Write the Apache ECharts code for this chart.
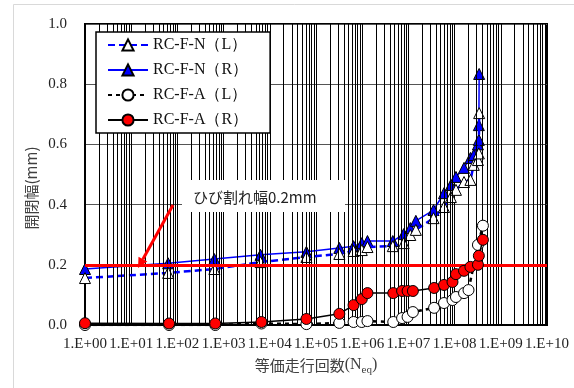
<!DOCTYPE html>
<html><head><meta charset="utf-8">
<script src="https://cdn.jsdelivr.net/npm/echarts@6/dist/echarts.min.js"></script>
<style>html,body{margin:0;padding:0;background:#fff}#c{width:574px;height:388px}</style>
</head><body><div id="c"></div>
<script>
// ---- data ----
const seriesNames = ['RC-F-N（L）', 'RC-F-N（R）', 'RC-F-A（L）', 'RC-F-A（R）'];
const yTicks = [0, 0.2, 0.4, 0.6, 0.8, 1.0];
const xTickExponents = [0,1,2,3,4,5,6,7,8,9,10];
const crackLimit = 0.2;
const crackLabel = 'ひび割れ幅0.2mm';

const nL_x = [1, 63, 630, 6300, 6.2e4, 3.2e5, 6.5e5, 9.8e5, 1.3e6, 4.6e6, 7.9e6, 1.1e7, 1.45e7, 3.5e7, 5.9e7, 8.3e7, 1.07e8, 1.6e8, 2.2e8, 2.6e8, 3.2e8, 3.35e8, 3.4e8];
const nL_y = [0.156, 0.173, 0.186, 0.209, 0.226, 0.236, 0.246, 0.249, 0.259, 0.262, 0.272, 0.299, 0.316, 0.355, 0.392, 0.425, 0.449, 0.475, 0.482, 0.532, 0.548, 0.570, 0.704];

const nR_x = [1, 63, 630, 6300, 6.2e4, 3.2e5, 6.5e5, 9.8e5, 1.3e6, 4.6e6, 7.9e6, 1.1e7, 1.45e7, 3.5e7, 5.9e7, 8.3e7, 1.07e8, 1.6e8, 2.2e8, 2.6e8, 3.2e8, 3.35e8, 3.35e8, 3.4e8];
const nR_y = [0.186, 0.205, 0.219, 0.233, 0.243, 0.256, 0.262, 0.272, 0.279, 0.279, 0.302, 0.322, 0.346, 0.382, 0.438, 0.465, 0.492, 0.522, 0.555, 0.565, 0.600, 0.615, 0.664, 0.834];

const aL_x = [1, 66, 660, 6600, 6.2e4, 3.2e5, 6.5e5, 9.8e5, 1.3e6, 4.7e6, 7.3e6, 9.6e6, 1.25e7, 3.6e7, 5.9e7, 9.0e7, 1.07e8, 1.6e8, 2.0e8, 3.2e8, 4.1e8];
const aL_y = [0.000, 0.000, 0.000, 0.005, 0.003, 0.007, 0.010, 0.010, 0.013, 0.010, 0.023, 0.027, 0.043, 0.057, 0.073, 0.083, 0.093, 0.106, 0.116, 0.266, 0.330];

const aR_x = [1, 66, 660, 6600, 6.2e4, 3.2e5, 6.5e5, 9.8e5, 1.3e6, 4.7e6, 7.3e6, 9.6e6, 1.25e7, 3.6e7, 5.9e7, 9.0e7, 1.07e8, 1.6e8, 2.2e8, 3.2e8, 3.35e8, 4.1e8];
const aR_y = [0.006, 0.005, 0.005, 0.010, 0.020, 0.037, 0.066, 0.086, 0.106, 0.106, 0.113, 0.113, 0.113, 0.123, 0.133, 0.143, 0.169, 0.180, 0.193, 0.200, 0.230, 0.283];

// ---- build ----
const pairs = (xs, ys) => xs.map((x, i) => [x, ys[i]]);
const minorLines = [];
for (let k = xTickExponents[0]; k < xTickExponents[xTickExponents.length - 1]; k++) {
  for (let m = 2; m <= 9; m++) minorLines.push({ xAxis: m * Math.pow(10, k) });
}
const serif = '"Liberation Serif","Times New Roman",serif';
const cjk = '"Noto Sans CJK JP",sans-serif';

const chart = echarts.init(document.getElementById('c'), null, { renderer: 'canvas' });
const option = {
  animation: false,
  backgroundColor: '#fff',
  grid: { left: 85, right: 27, top: 24, bottom: 63, show: true, borderColor: '#000', borderWidth: 2, backgroundColor: 'transparent' },
  legend: {
    orient: 'vertical', left: 96, top: 32,
    data: seriesNames,
    backgroundColor: '#fff', borderColor: '#000', borderWidth: 1.5,
    padding: [5, 22, 5, 11], itemGap: 9, itemWidth: 40, itemHeight: 14,
    textStyle: { fontFamily: serif, fontSize: 16, color: '#111' },
    z: 20
  },
  xAxis: {
    type: 'log', logBase: 10, min: Math.pow(10, xTickExponents[0]), max: Math.pow(10, xTickExponents[xTickExponents.length - 1]),
    interval: 1, splitNumber: 10,
    axisLine: { show: true, onZero: false, lineStyle: { color: '#000', width: 2 } },
    axisTick: { show: false },
    splitLine: { show: true, lineStyle: { color: '#000', width: 1 } },
    axisLabel: {
      margin: 12, fontFamily: serif, fontSize: 15, color: '#222',
      showMinLabel: true, showMaxLabel: true, hideOverlap: false,
      formatter: v => { const e = Math.round(Math.log10(v)); return '1.E+' + String(e).padStart(2, '0'); }
    },
    name: '{a|等価走行回数}{b|(N}{c|eq}{b|)}', nameLocation: 'middle', nameGap: 28,
    nameTextStyle: { rich: {
      a: { fontFamily: cjk, fontSize: 15, color: '#404040' },
      b: { fontFamily: serif, fontSize: 16, color: '#404040' },
      c: { fontFamily: serif, fontSize: 11, color: '#404040', padding: [10, 0, 0, 0] }
    } }
  },
  yAxis: {
    type: 'value', min: yTicks[0], max: yTicks[yTicks.length - 1], interval: 0.2,
    axisLine: { show: true, lineStyle: { color: '#000', width: 2 } },
    axisTick: { show: false },
    splitLine: { show: true, lineStyle: { color: '#555', width: 1 } },
    axisLabel: { margin: 18, fontFamily: serif, fontSize: 15, color: '#222', formatter: v => v.toFixed(1) }
  },
  series: [
    { name: '__grid', type: 'line', data: [], silent: true, z: 1,
      markLine: { silent: true, symbol: ['none', 'none'], label: { show: false }, animation: false,
        lineStyle: { color: '#000', width: 1, type: 'solid' }, data: minorLines } },
    { name: '__limit', type: 'line', data: [], silent: true, z: 2,
      markLine: { silent: true, symbol: ['none', 'none'], label: { show: false }, animation: false,
        lineStyle: { color: '#ff0000', width: 3, type: 'solid' }, data: [{ yAxis: crackLimit }] } },
    { name: seriesNames[1], type: 'line', data: pairs(nR_x, nR_y), z: 3,
      symbol: 'triangle', symbolSize: 11,
      lineStyle: { color: '#0000ff', width: 1.5, type: 'solid' },
      itemStyle: { color: '#0000ff', borderColor: '#000', borderWidth: 1 } },
    { name: seriesNames[0], type: 'line', data: pairs(nL_x, nL_y), z: 4,
      symbol: 'triangle', symbolSize: 11,
      lineStyle: { color: '#0000ff', width: 2.5, type: [7, 4] },
      itemStyle: { color: '#fff', borderColor: '#000', borderWidth: 1 } },
    { name: seriesNames[2], type: 'line', data: pairs(aL_x, aL_y), z: 5,
      symbol: 'circle', symbolSize: 11,
      lineStyle: { color: '#000', width: 2.5, type: [4, 4] },
      itemStyle: { color: '#fff', borderColor: '#000', borderWidth: 1 } },
    { name: seriesNames[3], type: 'line', data: pairs(aR_x, aR_y), z: 6,
      symbol: 'circle', symbolSize: 11,
      lineStyle: { color: '#000', width: 1.5, type: 'solid' },
      itemStyle: { color: '#ff0000', borderColor: '#000', borderWidth: 1 } }
  ],
  graphic: [
    { type: 'rect', silent: true, z: 0, shape: { x: 13.5, y: 4.5, width: 600, height: 400 }, style: { fill: null, stroke: '#d9d9d9', lineWidth: 1 } },
    { type: 'rect', silent: true, z: 10, shape: { x: 182, y: 180, width: 163, height: 32 }, style: { fill: '#fff' } },
    { type: 'text', silent: true, z: 11, x: 193, y: 197, style: { text: crackLabel, font: '15px "Noto Sans CJK JP"', fill: '#222', verticalAlign: 'middle' } },
    { type: 'line', silent: true, z: 11, shape: { x1: 173, y1: 205, x2: 142.9, y2: 259.2 }, style: { stroke: '#ff0000', lineWidth: 3 } },
    { type: 'polygon', silent: true, z: 11, shape: { points: [[138, 268], [147.3, 261.6], [138.5, 256.8]] }, style: { fill: '#ff0000' } },
    { type: 'text', silent: true, z: 11, x: 31, y: 188, rotation: Math.PI / 2,
      style: { text: '開閉幅(mm)', font: '15px "Noto Sans CJK JP"', fill: '#404040', align: 'center', verticalAlign: 'middle' } }
  ]
};
chart.setOption(option);
</script>
</body></html>
